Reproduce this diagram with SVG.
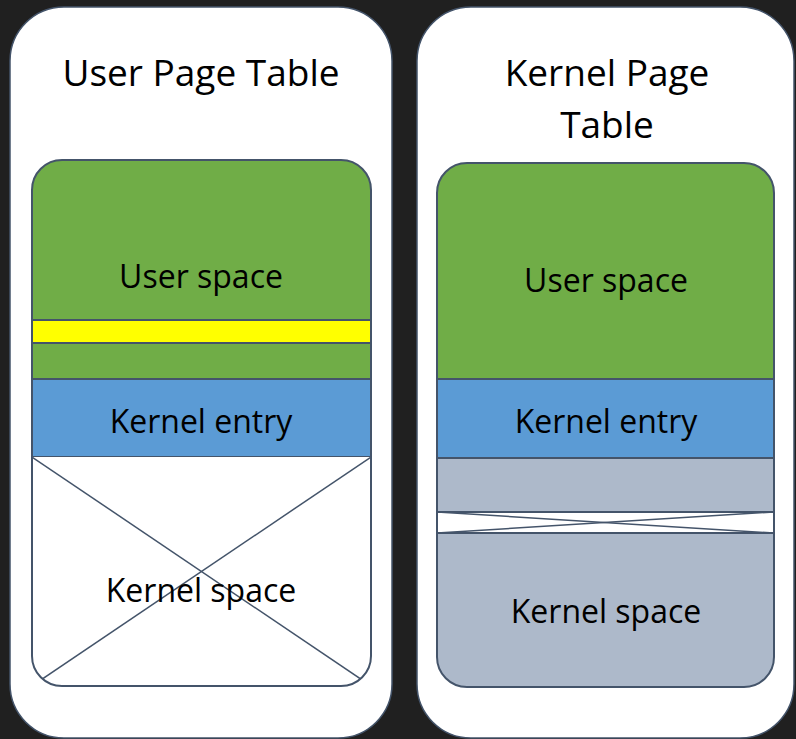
<svg xmlns="http://www.w3.org/2000/svg" width="796" height="739" viewBox="0 0 796 739">
<style>
.frame{fill:#ffffff;stroke:#44546a;stroke-width:1.5}
.seg{stroke:#44546a;stroke-width:2}
.line{stroke:#44546a;stroke-width:1.5;fill:none}
.title{font-family:"Open Sans",sans-serif;font-size:37px;fill:#000;text-anchor:middle}
.lbl{font-family:"Open Sans",sans-serif;font-size:32px;fill:#000;text-anchor:middle}
</style>
<defs>
<clipPath id="clipL"><rect x="32" y="160" width="339" height="526" rx="30"/></clipPath>
<clipPath id="clipR"><rect x="437" y="163" width="337" height="524" rx="30"/></clipPath>
</defs>
<rect width="796" height="739" fill="#202020"/>
<g id="user-page-table">
<rect class="frame" x="10" y="7" width="382" height="731" rx="54"/>
<text class="title" x="201" y="86">User Page Table</text>
</g>
<g id="kernel-page-table">
<rect class="frame" x="417" y="7" width="377" height="731" rx="54"/>
<text class="title" x="607" y="86">Kernel Page</text>
<text class="title" x="607" y="138">Table</text>
</g>
<g id="user-table-stack">
<g clip-path="url(#clipL)">
<rect id="u-user-space" x="32" y="160" width="339" height="219" fill="#70ad47"/>
<rect id="u-yellow" class="seg" x="32" y="320" width="339" height="23" fill="#ffff00"/>
<rect id="u-kernel-entry" class="seg" x="32" y="379" width="339" height="78" fill="#5b9bd5"/>
<rect id="u-kernel-space" x="32" y="457" width="339" height="229" fill="#ffffff"/>
<line class="line" x1="32" y1="457" x2="371" y2="686"/>
<line class="line" x1="371" y1="457" x2="32" y2="686"/>
</g>
<rect x="32" y="160" width="339" height="526" rx="30" fill="none" stroke="#44546a" stroke-width="2"/>
<text class="lbl" x="201" y="288">User space</text>
<text class="lbl" x="201" y="433">Kernel entry</text>
<text class="lbl" x="201" y="602">Kernel space</text>
</g>
<g id="kernel-table-stack">
<g clip-path="url(#clipR)">
<rect id="k-user-space" x="437" y="163" width="337" height="216" fill="#70ad47"/>
<rect id="k-kernel-entry" class="seg" x="437" y="379" width="337" height="79" fill="#5b9bd5"/>
<rect id="k-kernel-space-a" class="seg" x="437" y="458" width="337" height="54" fill="#adb9ca"/>
<rect id="k-gap" class="seg" x="437" y="512" width="337" height="21" fill="#ffffff"/>
<line class="line" x1="437" y1="512" x2="774" y2="533"/>
<line class="line" x1="437" y1="533" x2="774" y2="512"/>
<rect id="k-kernel-space-b" class="seg" x="437" y="533" width="337" height="160" fill="#adb9ca"/>
</g>
<rect x="437" y="163" width="337" height="524" rx="30" fill="none" stroke="#44546a" stroke-width="2"/>
<text class="lbl" x="606" y="292">User space</text>
<text class="lbl" x="606" y="433">Kernel entry</text>
<text class="lbl" x="606" y="623">Kernel space</text>
</g>
</svg>
